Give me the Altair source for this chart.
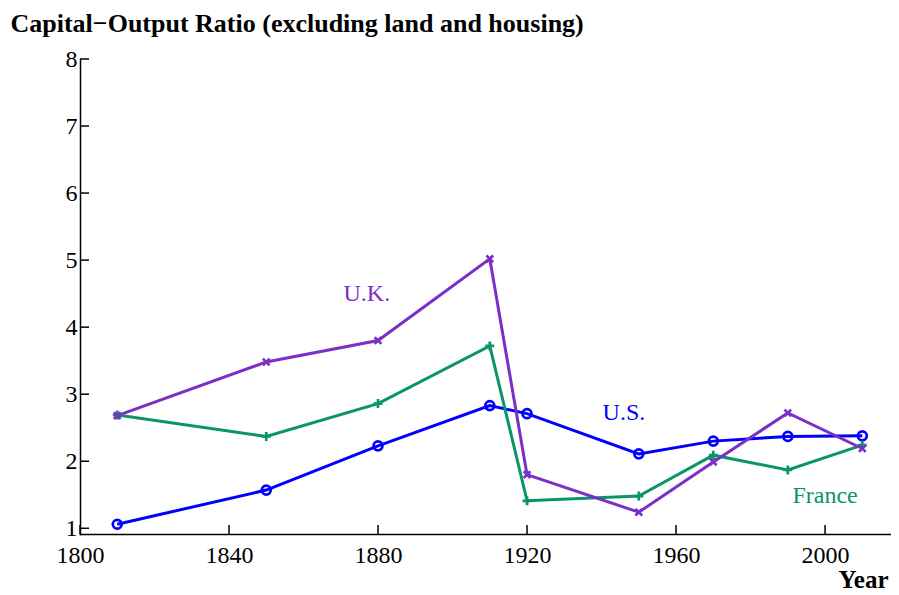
import altair as alt
import pandas as pd

years = [1810, 1850, 1880, 1910, 1920, 1950, 1970, 1990, 2010]
us = [1.06, 1.57, 2.23, 2.83, 2.71, 2.11, 2.30, 2.37, 2.38]
france = [2.69, 2.37, 2.86, 3.72, 1.41, 1.48, 2.09, 1.87, 2.24]
uk = [2.68, 3.48, 3.80, 5.02, 1.80, 1.24, 1.99, 2.72, 2.19]

series_names = ["U.S.", "France", "U.K."]
series_colors = ["#0000ff", "#0b9468", "#7b2fc6"]

label_text = ["U.K.", "U.S.", "France"]
label_year = [1877, 1946, 2000]
label_value = [4.5, 2.72, 1.48]

x_ticks = [1800, 1840, 1880, 1920, 1960, 2000]
y_ticks = [1, 2, 3, 4, 5, 6, 7, 8]

FONT = "Liberation Serif"
W, H = 811, 475

rows = []
for name, vals in zip(series_names, [us, france, uk]):
    for yr, v in zip(years, vals):
        rows.append({"year": yr, "value": v, "series": name})
df = pd.DataFrame(rows)

xscale = alt.Scale(domain=[1800, 2017.7], nice=False, zero=False)
yscale = alt.Scale(domain=[0.9146, 8], nice=False, zero=False)
color_scale = alt.Scale(domain=series_names, range=series_colors)

x_axis = alt.Axis(values=x_ticks, ticks=False, grid=False, labelFont=FONT, labelFontSize=24,
                  labelColor="black", labelPadding=9, domainColor="black", domainWidth=1.5,
                  format="d", title="Year", titleFont=FONT, titleFontSize=25, titleFontWeight="bold",
                  titleColor="black", titleAnchor="end", titleAlign="right", titleX=W - 3, titleY=53,
                  titleBaseline="alphabetic", labelFlush=False, labelOverlap=False)
y_axis = alt.Axis(values=y_ticks, ticks=False, grid=False, labelFont=FONT, labelFontSize=24,
                  labelColor="black", labelPadding=3, domainColor="black", domainWidth=1.5,
                  format="d", labelFlush=False, labelOverlap=False,
                  title="Capital\u2212Output Ratio (excluding land and housing)",
                  titleFont=FONT, titleFontSize=26, titleFontWeight="bold", titleColor="black",
                  titleAngle=0, titleAlign="left", titleBaseline="alphabetic",
                  titleX=-70, titleY=-28)

base = alt.Chart(df).encode(
    x=alt.X("year:Q", scale=xscale, axis=x_axis),
    y=alt.Y("value:Q", scale=yscale, axis=y_axis),
    color=alt.Color("series:N", scale=color_scale, legend=None),
)

lines = base.mark_line(strokeWidth=3)

circles = base.transform_filter(alt.datum.series == "U.S.").mark_point(
    shape="circle", filled=False, size=80, strokeWidth=2.7, opacity=1)
plus = base.transform_filter(alt.datum.series == "France").mark_point(
    shape="M-1,0L1,0M0,-1L0,1", filled=False, size=80, strokeWidth=2.7, opacity=1)
cross = base.transform_filter(alt.datum.series == "U.K.").mark_point(
    shape="M-1,-1L1,1M-1,1L1,-1", filled=False, size=45, strokeWidth=2.7, opacity=1)

lab_df = pd.DataFrame({"label": label_text, "year": label_year, "value": label_value,
                       "series": ["U.K.", "U.S.", "France"]})
labels = alt.Chart(lab_df).mark_text(font=FONT, fontSize=24, align="center", baseline="middle").encode(
    x=alt.X("year:Q", scale=xscale),
    y=alt.Y("value:Q", scale=yscale),
    text="label:N",
    color=alt.Color("series:N", scale=color_scale, legend=None),
)

ytick_df = pd.DataFrame({"v": y_ticks})
yticks = alt.Chart(ytick_df).mark_rule(color="black", strokeWidth=1.5).encode(
    y=alt.Y("v:Q", scale=yscale), x=alt.value(0), x2=alt.value(9))
xtick_df = pd.DataFrame({"v": x_ticks})
xticks = alt.Chart(xtick_df).mark_rule(color="black", strokeWidth=1.5).encode(
    x=alt.X("v:Q", scale=xscale), y=alt.value(H), y2=alt.value(H - 9))

chart = alt.layer(lines, circles, plus, cross, labels, yticks, xticks).properties(
    width=W, height=H,
    autosize=alt.AutoSizeParams(type="none"),
    padding={"left": 72, "top": 51, "right": 0, "bottom": 60},
).configure_view(stroke=None).configure_axis(domainCap="square")

chart.save("out.html", embed_options={"renderer": "svg", "actions": False})
